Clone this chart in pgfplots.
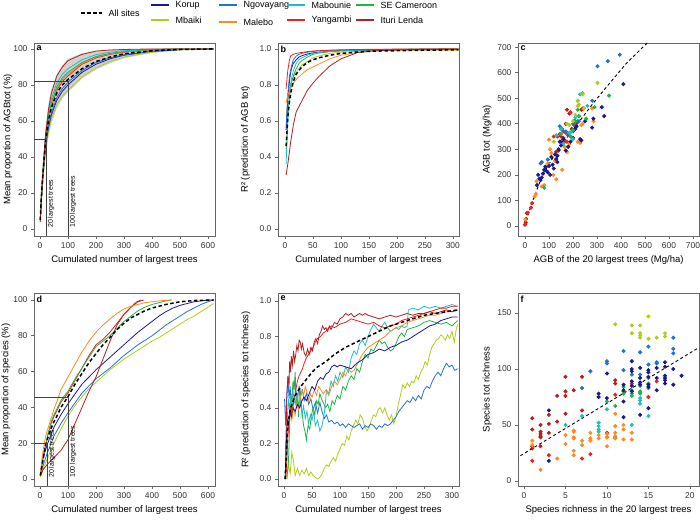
\documentclass[border=0pt]{standalone}
\usepackage{fontspec}
\setmainfont{Liberation Sans}
\usepackage{pgfplots}
\pgfplotsset{compat=1.18}
\usepackage{pgfplotstable}

\definecolor{korup}{HTML}{1A1A8C}
\definecolor{ngov}{HTML}{2271D6}
\definecolor{mabo}{HTML}{1FBFBF}
\definecolor{secam}{HTML}{1DB54A}
\definecolor{mbaiki}{HTML}{B4CC14}
\definecolor{malebo}{HTML}{FF8A1F}
\definecolor{yang}{HTML}{EE2020}
\definecolor{ituri}{HTML}{B51F1F}

\pgfplotsset{
  panel/.style={
    scale only axis, width=181pt, height=193pt, anchor=south west,
    axis line style={black!60, line width=0.6pt},
    tick align=outside, xtick pos=bottom, ytick pos=left,
    major tick length=3pt, tick style={black!60, line width=0.6pt},
    tick label style={font=\fontsize{8.5}{9}\selectfont, text=black!80},
    label style={font=\fontsize{9.5}{10}\selectfont},
    /pgf/number format/assume math mode=true,
    every axis plot/.append style={line width=0.8pt},
  },
  ylab/.style={ylabel style={at={(rel axis cs:#1,0.5)}, anchor=center}},
  alldash/.style={black, line width=1.5pt, dash pattern=on 3.5pt off 2.5pt},
  refl/.style={black!75, line width=0.6pt},
  sc/.style={only marks, mark=*, mark size=1.6pt},
}
\tikzset{rotlab/.style={rotate=90, anchor=north west, inner sep=1pt, font=\fontsize{7}{8}\selectfont}}
\newcommand{\plab}[1]{\node[anchor=north west, inner sep=2.5pt, font=\bfseries\fontsize{9}{10}\selectfont] at (rel axis cs:0,1) {#1};}

% panel a: mean proportion of AGB
\pgfplotstableread{
x   allsites ituri mabo secam malebo yang ngov korup mbaiki
1   5    4     5    5     5      5    5    5     4
5   18   17    19   18    18     18   17   16    15
10  30   31    32   31    30     30   29   28    26
20  49   52    53   51    50     50   47   46    44
30  60   66    65   62    61     61   57   56    54
40  67   75    72   70    69     68   64   63    61
60  75.5 85    81   79    78     77   73   71.5  69
80  80   90    86   84    83     82   78   76.5  74
100 83   93.5  89   87    86     85   81.5 80    77
150 89   97    94   92.5  92     91.5 88   87    84.5
200 93   98.8  96.8 95.8  95.5   95   92.5 91.5  89.5
250 95.5 99.4  98.2 97.5  97.3   97   95   94.5  93
300 97.3 99.7  99   98.6  98.4   98.2 96.8 96.5  95.5
400 99   100   99.8 99.6  99.5   99.5 98.8 98.7  98.2
500 99.7 100   100  100   100    100  99.7 99.6  99.5
620 100  100   100  100   100    100  100  100   100
}\tabA

% panel b: R2 of AGB tot
\pgfplotstableread{
x   allsites ituri malebo yang  ngov  korup mabo  secam mbaiki
2   0.46  0.30  0.70   0.78  0.55  0.55  0.36  0.42  0.58
5   0.62  0.36  0.74   0.88  0.75  0.72  0.60  0.62  0.72
8   0.71  0.43  0.77   0.94  0.85  0.82  0.74  0.73  0.77
10  0.75  0.48  0.78   0.96  0.88  0.87  0.80  0.78  0.80
12  0.78  0.52  0.795  0.965 0.91  0.895 0.84  0.82  0.82
15  0.82  0.58  0.81   0.97  0.94  0.92  0.88  0.85  0.845
20  0.86  0.65  0.83   0.975 0.96  0.94  0.92  0.89  0.87
25  0.88  0.68  0.845  0.978 0.97  0.955 0.94  0.92  0.89
30  0.90  0.71  0.86   0.98  0.975 0.962 0.95  0.935 0.91
40  0.925 0.77  0.885  0.985 0.982 0.972 0.965 0.955 0.93
50  0.94  0.81  0.90   0.988 0.986 0.978 0.975 0.97  0.95
60  0.95  0.845 0.915  0.99  0.99  0.982 0.98  0.977 0.96
80  0.965 0.905 0.945  0.993 0.992 0.986 0.986 0.985 0.975
100 0.975 0.945 0.965  0.995 0.994 0.99  0.99  0.99  0.982
130 0.983 0.98  0.98   0.997 0.996 0.992 0.993 0.993 0.987
160 0.988 0.99  0.99   0.998 0.997 0.994 0.995 0.995 0.99
200 0.99  0.995 0.995  0.999 0.998 0.995 0.997 0.997 0.992
250 0.993 0.998 0.998  1.0   0.999 0.996 0.998 0.998 0.993
310 0.995 1.0   1.0    1.0   1.0   0.997 1.0   1.0   0.993
}\tabB

\begin{document}
\begin{tikzpicture}
\path[use as bounding box] (0pt,0pt) rectangle (700pt,529pt);

% legend
\draw[black, line width=1.6pt, dash pattern=on 3.5pt off 2.5pt] (81pt,516pt) -- (102pt,516pt);
\node[anchor=west, font=\fontsize{9}{10}\selectfont] at (105pt,516pt) {All sites};
\foreach \xx/\yy/\cc/\nn in {151/524/korup/Korup, 219/524/ngov/Ngovayang, 287/524/mabo/Mabounie, 356/524/secam/SE Cameroon,
  151/509/mbaiki/Mbaiki, 219/507/malebo/Malebo, 287/509/yang/Yangambi, 356/509/ituri/Ituri Lenda}{
  \draw[\cc, line width=2pt] (\xx pt,\yy pt) -- (\xx pt+18pt,\yy pt);
  \node[anchor=west, font=\fontsize{9}{10}\selectfont] at (\xx pt+21pt,\yy pt) {\nn};
}

% ---------- a ----------
\begin{axis}[panel, at={(34pt,293pt)}, ylab=-0.144,
  xmin=-21.4, xmax=625, ymin=-3.9, ymax=103.3,
  xtick={0,100,...,600}, ytick={0,20,...,100},
  xlabel={Cumulated number of largest trees},
  ylabel={Mean proportion of AGBtot (\%)}]
\addplot[fill=black!18, draw=none] coordinates {(1,6) (5,20) (10,34) (20,56) (30,69) (40,77) (60,86) (80,91) (100,94.5) (150,97.5) (200,99) (250,99.6) (300,99.8) (400,100) (500,100) (620,100)
  (620,100) (500,99.3) (400,97.8) (300,94.8) (250,92) (200,88.5) (150,83.5) (100,76) (80,72.5) (60,67) (40,58) (30,51) (20,41) (10,24) (5,13) (1,3)};
\addplot[mbaiki] table[x=x,y=mbaiki]{\tabA};
\addplot[korup] table[x=x,y=korup]{\tabA};
\addplot[ngov] table[x=x,y=ngov]{\tabA};
\addplot[yang] table[x=x,y=yang]{\tabA};
\addplot[malebo] table[x=x,y=malebo]{\tabA};
\addplot[secam] table[x=x,y=secam]{\tabA};
\addplot[mabo] table[x=x,y=mabo]{\tabA};
\addplot[ituri] table[x=x,y=ituri]{\tabA};
\addplot[alldash] table[x=x,y=allsites]{\tabA};
\addplot[refl] coordinates {(-30,82) (100,82) (100,-10)};
\addplot[refl] coordinates {(-30,50) (22,50) (22,-10)};
\node[rotlab] at (axis cs:24,0) {20 largest trees};
\node[rotlab] at (axis cs:102,0) {100 largest trees};
\plab{a}
\end{axis}

% ---------- b ----------
\begin{axis}[panel, at={(278pt,293pt)}, ylab=-0.18,
  xmin=-12.5, xmax=311, ymin=-0.039, ymax=1.033,
  xtick={0,50,...,300}, ytick={0,0.2,...,1.0},
  yticklabel style={/pgf/number format/.cd, fixed, fixed zerofill, precision=1},
  xlabel={Cumulated number of largest trees},
  ylabel={R² (prediction of AGB tot)}]
\addplot[mbaiki] table[x=x,y=mbaiki]{\tabB};
\addplot[korup] table[x=x,y=korup]{\tabB};
\addplot[secam] table[x=x,y=secam]{\tabB};
\addplot[mabo] table[x=x,y=mabo]{\tabB};
\addplot[ngov] table[x=x,y=ngov]{\tabB};
\addplot[malebo] table[x=x,y=malebo]{\tabB};
\addplot[yang] table[x=x,y=yang]{\tabB};
\addplot[ituri] table[x=x,y=ituri]{\tabB};
\addplot[alldash] table[x=x,y=allsites]{\tabB};
\plab{b}
\end{axis}

% ---------- c ----------
\begin{axis}[panel, at={(518pt,293pt)}, ylab=-0.17,
  xmin=-29, xmax=725, ymin=-39, ymax=716,
  xtick={0,100,...,700}, ytick={0,100,...,700},
  xlabel={AGB of the 20 largest trees (Mg/ha)},
  ylabel={AGB tot (Mg/ha)}]
\addplot[sc, ituri] coordinates {(0,5) (3,15) (5,28) (8,50) (130,290) (150,350) (160,345) (170,400) (175,455) (185,440) (195,380) (215,405) (235,455) (245,460) (140,295) (165,330) (200,370)};
\addplot[sc, yang] coordinates {(2,8) (12,52) (25,72) (30,90) (120,350) (135,350) (145,360) (160,370) (170,365) (180,355) (190,445) (205,395) (220,410) (240,460) (175,330) (155,335)};
\addplot[sc, malebo] coordinates {(2,25) (40,115) (45,125) (48,175) (70,155) (80,160) (100,338) (104,300) (110,285) (118,200) (130,183) (155,220) (165,310) (175,290) (180,312) (185,322) (220,330) (230,325) (235,395) (240,400) (285,410) (280,460) (125,255) (95,245)};
\addplot[sc, korup] coordinates {(50,160) (55,200) (60,185) (65,180) (70,190) (80,220) (85,232) (90,215) (95,210) (100,235) (105,200) (110,270) (115,240) (120,225) (125,280) (130,262) (135,250) (140,300) (145,330) (150,315) (155,325) (160,340) (170,295) (180,310) (190,330) (200,345) (205,410) (210,380) (215,390) (230,340) (235,335) (250,410) (280,385) (285,420) (320,465) (330,430) (410,555) (75,205) (135,275)};
\addplot[sc, ngov] coordinates {(65,245) (70,250) (95,260) (145,390) (155,380) (170,370) (200,400) (280,490) (302,625) (345,645) (395,670) (225,410) (180,360)};
\addplot[sc, mabo] coordinates {(130,355) (150,380) (185,365) (195,370) (200,340) (210,425) (230,515) (240,520) (260,470) (160,322) (220,490)};
\addplot[sc, secam] coordinates {(80,150) (150,360) (190,350) (200,375) (210,410) (225,430) (255,420) (290,465) (350,510) (220,455)};
\addplot[sc, mbaiki] coordinates {(120,330) (175,400) (185,395) (200,410) (210,435) (220,470) (220,490) (225,475) (240,515) (302,560) (245,460)};
\addplot[black, line width=0.9pt, dash pattern=on 3pt off 2.5pt] coordinates {(0,0) (10,35) (28,89) (76,206) (146,311) (215,395) (284,480) (353,559) (423,637) (530,735)};
\plab{c}
\end{axis}

% ---------- d ----------
\begin{axis}[panel, at={(34pt,43pt)}, ylab=-0.155,
  xmin=-21.4, xmax=625, ymin=-3.9, ymax=103.9,
  xtick={0,100,...,600}, ytick={0,20,...,100},
  xlabel={Cumulated number of largest trees},
  ylabel={Mean proportion of species (\%)}]
\addplot[mbaiki] coordinates {(1,1) (10,5) (25,11) (50,20) (75,28) (100,35) (125,41) (150,46) (175,50.5) (200,54) (225,57.5) (250,61) (275,64) (300,67) (325,69.5) (350,72) (375,74.5) (400,77) (425,79) (450,81.5) (475,84) (500,86.5) (525,89) (550,91) (575,93.5) (600,96) (620,98)};
\addplot[ngov] coordinates {(1,2) (10,7) (25,14) (50,24) (75,31) (100,37) (125,42.5) (150,48) (175,52) (200,56) (225,59) (250,62) (275,65.5) (300,69) (325,72) (350,75) (375,77.5) (400,80) (425,83) (450,86) (475,88.5) (500,91) (525,93.5) (550,95.5) (575,97.5) (600,99) (620,100)};
\addplot[korup] coordinates {(1,2) (10,11) (25,19) (50,29) (75,36) (100,42) (125,47.5) (150,53) (175,57) (200,61) (225,64.5) (250,68) (275,71.5) (300,75) (325,78.5) (350,82) (375,85) (400,88) (425,91) (450,93.5) (475,95.5) (500,97) (550,99) (600,100) (620,100)};
\addplot[ituri] coordinates {(3,2) (10,5) (25,8) (50,12) (75,16) (100,22) (125,31) (150,40) (175,49) (200,57) (225,67) (250,77) (275,86) (300,92) (325,96) (350,99) (370,100)};
\addplot[yang] coordinates {(1,2) (10,12) (20,19) (30,26) (40,31) (50,35) (60,38) (75,43) (100,48) (125,55) (150,62) (175,69) (200,75) (225,78) (250,82) (275,87) (300,92) (325,96) (345,99) (360,100)};
\addplot[secam] coordinates {(1,2) (10,11) (20,19) (30,26) (40,32) (50,36) (60,39) (75,44) (100,49) (125,56) (150,62) (175,68) (200,74) (225,77) (250,80) (275,84) (300,88) (325,91) (350,94) (375,96) (400,97.5) (425,98.5) (450,99.5) (470,100)};
\addplot[malebo] coordinates {(1,3) (10,15) (20,24) (30,29) (40,34) (50,39) (60,43) (75,50) (100,57) (125,64) (150,71) (175,77) (200,82) (225,86) (250,89.5) (275,92.5) (300,95) (325,96.5) (350,97.5) (375,98.5) (400,99) (425,99.5) (450,99.8) (470,100)};
\addplot[alldash] coordinates {(1,2) (10,10) (20,19) (30,24) (40,28.5) (50,32) (60,35) (75,40) (100,46) (125,53) (150,59) (175,65) (200,70) (225,75) (250,79) (275,83.5) (300,87) (325,90) (350,92) (375,94) (400,95.5) (450,97.5) (500,99) (550,99.7) (620,100)};
\addplot[refl] coordinates {(-30,45.5) (100,45.5) (100,-10)};
\addplot[refl] coordinates {(-30,20) (25,20) (25,-10)};
\node[rotlab] at (axis cs:27,0) {20 largest trees};
\node[rotlab] at (axis cs:102,0) {100 largest trees};
\plab{d}
\end{axis}

% ---------- e ----------
\begin{axis}[panel, at={(278pt,43pt)}, ylab=-0.177,
  xmin=-10.7, xmax=312.5, ymin=-0.039, ymax=1.045,
  xtick={0,50,...,300}, ytick={0,0.2,...,1.0},
  yticklabel style={/pgf/number format/.cd, fixed, fixed zerofill, precision=1},
  xlabel={Cumulated number of largest trees},
  ylabel={R² (prediction of species tot richness)}]
\addplot[mbaiki] coordinates {(5,0) (8,0.08) (11,0.03) (14,0.15) (17,0.1) (20,0.02) (24,0.06) (28,0.02) (32,0.05) (36,0.03) (40,0.06) (44,0.02) (48,0.04) (52,0.02) (56,0.01) (60,0.0) (64,0.01) (68,0.03) (72,0.06) (76,0.08) (80,0.07) (84,0.1) (88,0.12) (92,0.1) (96,0.14) (100,0.17) (104,0.2) (108,0.19) (112,0.24) (116,0.22) (120,0.27) (124,0.3) (128,0.33) (132,0.31) (136,0.36) (140,0.34) (144,0.3) (148,0.27) (152,0.29) (156,0.33) (160,0.36) (164,0.35) (168,0.39) (172,0.4) (176,0.37) (180,0.4) (184,0.36) (188,0.33) (192,0.36) (196,0.31) (200,0.35) (204,0.42) (208,0.47) (212,0.53) (216,0.51) (220,0.54) (224,0.52) (228,0.55) (232,0.54) (236,0.58) (240,0.56) (244,0.6) (248,0.62) (252,0.66) (256,0.64) (260,0.7) (264,0.74) (268,0.76) (272,0.78) (276,0.79) (280,0.81) (284,0.8) (288,0.78) (292,0.81) (296,0.79) (300,0.83) (304,0.77) (308,0.85) (311,0.87)};
\addplot[ngov] coordinates {(1,0.45) (3,0.3) (5,0.48) (7,0.57) (9,0.45) (11,0.52) (13,0.41) (15,0.5) (18,0.55) (21,0.5) (24,0.45) (27,0.52) (30,0.47) (33,0.5) (36,0.44) (40,0.48) (44,0.42) (48,0.45) (52,0.39) (56,0.43) (60,0.37) (64,0.43) (68,0.38) (72,0.34) (76,0.36) (80,0.32) (85,0.33) (90,0.31) (95,0.32) (100,0.3) (105,0.31) (110,0.29) (115,0.31) (120,0.3) (125,0.29) (130,0.3) (135,0.31) (140,0.28) (145,0.3) (150,0.29) (155,0.31) (160,0.3) (165,0.28) (170,0.3) (175,0.29) (180,0.31) (185,0.3) (190,0.31) (195,0.33) (200,0.35) (205,0.38) (210,0.4) (215,0.42) (220,0.44) (225,0.43) (230,0.46) (235,0.44) (240,0.47) (245,0.45) (250,0.5) (255,0.52) (260,0.51) (265,0.55) (270,0.58) (275,0.6) (280,0.58) (285,0.62) (290,0.65) (295,0.63) (300,0.64) (305,0.61) (310,0.62)};
\addplot[secam] coordinates {(5,0) (8,0.1) (10,0.3) (12,0.45) (14,0.35) (16,0.55) (18,0.5) (20,0.6) (22,0.4) (24,0.48) (26,0.35) (28,0.52) (30,0.45) (32,0.38) (35,0.3) (38,0.26) (40,0.22) (43,0.3) (46,0.28) (49,0.36) (52,0.4) (55,0.36) (58,0.44) (61,0.42) (64,0.48) (67,0.45) (70,0.43) (74,0.4) (78,0.42) (82,0.38) (86,0.44) (90,0.42) (95,0.47) (100,0.45) (105,0.52) (110,0.5) (115,0.55) (120,0.58) (125,0.56) (130,0.62) (135,0.6) (140,0.66) (145,0.7) (150,0.68) (155,0.73) (160,0.72) (165,0.75) (170,0.78) (175,0.76) (180,0.77) (185,0.74) (190,0.72) (195,0.73) (200,0.76) (205,0.8) (210,0.82) (215,0.8) (220,0.84) (230,0.85) (240,0.86) (250,0.88) (260,0.89) (270,0.88) (280,0.87) (290,0.88) (300,0.86) (310,0.89)};
\addplot[mabo] coordinates {(2,0) (4,0.15) (6,0.35) (8,0.45) (10,0.38) (12,0.47) (14,0.41) (16,0.5) (18,0.44) (20,0.42) (23,0.48) (26,0.39) (29,0.45) (32,0.36) (35,0.41) (38,0.34) (41,0.38) (44,0.31) (47,0.36) (50,0.33) (53,0.38) (56,0.3) (60,0.33) (64,0.27) (68,0.3) (72,0.37) (76,0.5) (80,0.48) (84,0.55) (88,0.52) (92,0.58) (96,0.55) (100,0.6) (105,0.57) (110,0.63) (115,0.6) (120,0.68) (125,0.72) (130,0.7) (135,0.76) (140,0.78) (145,0.75) (150,0.8) (155,0.84) (160,0.87) (165,0.85) (170,0.83) (175,0.86) (180,0.88) (185,0.85) (190,0.83) (195,0.84) (200,0.85) (205,0.84) (210,0.86) (215,0.85) (220,0.86) (222,0.95) (230,0.96) (240,0.95) (250,0.97) (260,0.96) (270,0.97) (280,0.96) (290,0.97) (300,0.98) (310,0.97)};
\addplot[malebo] coordinates {(3,0) (5,0.12) (8,0.3) (11,0.38) (14,0.33) (17,0.4) (20,0.36) (23,0.43) (26,0.39) (29,0.45) (32,0.5) (35,0.47) (38,0.52) (41,0.49) (44,0.44) (47,0.48) (50,0.46) (54,0.5) (58,0.47) (62,0.52) (66,0.5) (70,0.48) (75,0.5) (80,0.47) (85,0.52) (90,0.55) (95,0.53) (100,0.56) (105,0.6) (110,0.58) (115,0.62) (120,0.6) (125,0.61) (130,0.64) (135,0.67) (140,0.7) (145,0.72) (150,0.74) (160,0.76) (170,0.78) (180,0.8) (190,0.83) (200,0.85) (210,0.86) (220,0.88) (230,0.89) (240,0.9) (250,0.91) (260,0.92) (270,0.92) (280,0.93) (290,0.94) (300,0.94) (310,0.95)};
\addplot[korup] coordinates {(2,0) (4,0.2) (6,0.33) (8,0.3) (10,0.38) (13,0.35) (16,0.4) (20,0.38) (24,0.42) (28,0.4) (32,0.44) (36,0.46) (40,0.44) (45,0.48) (50,0.52) (55,0.5) (60,0.55) (65,0.57) (70,0.56) (75,0.59) (80,0.6) (85,0.63) (90,0.64) (95,0.63) (100,0.64) (110,0.63) (120,0.62) (130,0.65) (140,0.67) (150,0.7) (160,0.71) (170,0.73) (180,0.72) (190,0.74) (200,0.75) (210,0.77) (220,0.78) (230,0.8) (240,0.82) (250,0.84) (260,0.86) (270,0.87) (280,0.89) (290,0.9) (300,0.91) (310,0.91)};
\addplot[yang] coordinates {(3,0) (5,0.1) (7,0.25) (9,0.32) (12,0.4) (15,0.38) (18,0.45) (21,0.5) (24,0.55) (27,0.58) (30,0.6) (33,0.62) (36,0.65) (40,0.68) (44,0.7) (48,0.72) (52,0.74) (56,0.77) (60,0.79) (65,0.8) (70,0.82) (75,0.83) (80,0.85) (85,0.86) (90,0.85) (95,0.86) (100,0.87) (110,0.88) (120,0.9) (130,0.89) (140,0.88) (150,0.87) (160,0.88) (170,0.86) (180,0.85) (190,0.86) (200,0.87) (210,0.89) (220,0.9) (230,0.91) (240,0.92) (250,0.93) (260,0.94) (270,0.95) (280,0.96) (290,0.96) (300,0.97) (310,0.97)};
\addplot[ituri] coordinates {(3,0.15) (5,0.45) (7,0.58) (9,0.52) (10,0.66) (12,0.6) (13,0.69) (15,0.64) (17,0.72) (19,0.66) (21,0.7) (23,0.75) (25,0.72) (27,0.78) (29,0.77) (31,0.73) (33,0.76) (36,0.71) (39,0.69) (42,0.73) (45,0.7) (48,0.74) (51,0.72) (54,0.77) (57,0.79) (60,0.76) (63,0.81) (66,0.83) (69,0.86) (72,0.84) (75,0.85) (78,0.83) (81,0.86) (84,0.84) (87,0.86) (90,0.88) (95,0.87) (100,0.9) (105,0.91) (110,0.93) (115,0.92) (120,0.93) (125,0.91) (130,0.92) (135,0.93) (140,0.92) (145,0.93) (150,0.92) (160,0.91) (170,0.9) (180,0.91) (190,0.92) (200,0.91) (210,0.92) (220,0.93) (230,0.92) (240,0.93) (250,0.93) (260,0.94) (270,0.93) (280,0.94) (290,0.95) (300,0.94) (310,0.95)};
\addplot[alldash] coordinates {(2,0) (4,0.12) (6,0.27) (8,0.33) (12,0.4) (20,0.47) (30,0.52) (40,0.56) (50,0.6) (60,0.63) (75,0.66) (90,0.7) (110,0.74) (130,0.77) (150,0.8) (170,0.83) (190,0.86) (210,0.88) (230,0.9) (250,0.92) (270,0.93) (290,0.94) (310,0.95)};
\plab{e}
\end{axis}

% ---------- f ----------
\begin{axis}[panel, at={(518pt,43pt)}, ylab=-0.17,
  xmin=-0.72, xmax=21.1, ymin=-4.5, ymax=167.9,
  xtick={0,5,...,20}, ytick={0,50,100,150},
  xlabel={Species richness in the 20 largest trees},
  ylabel={Species tot richness}]
\addplot[sc, ituri] coordinates {(1,56) (1,46) (1,31) (1,29) (2,50) (2,44) (2,42) (2,40) (2,39) (2,31) (3,59) (3,51) (3,43) (4,76) (4,53) (5,93) (5,80) (5,76) (5,60) (6,81) (7,93) (7,63) (11,90) (11,87)};
\addplot[sc, yang] coordinates {(1,18) (3,23) (7,20) (8,24) (10,43) (10,39) (11,39) (11,77) (12,80) (13,87) (15,75) (16,89)};
\addplot[sc, malebo] coordinates {(1,36) (1,32) (2,10) (4,20) (5,41) (5,33) (6,45) (6,44) (6,39) (6,38) (6,27) (6,23) (7,36) (7,32) (8,43) (8,38) (8,36) (9,41) (9,38) (10,42) (10,39) (10,31) (11,60) (11,49) (11,43) (11,40) (11,38) (12,50) (12,46) (12,37) (13,43) (13,37)};
\addplot[sc, mabo] coordinates {(5,50) (7,58) (9,52) (9,49) (9,46) (9,44) (10,64) (13,50) (14,72) (14,69) (14,74) (15,58)};
\addplot[sc, secam] coordinates {(10,71) (11,67) (12,84) (12,78) (13,81) (13,78) (13,76) (14,85) (14,80) (14,79) (14,78) (15,92) (15,87) (15,83)};
\addplot[sc, ngov] coordinates {(7,83) (8,98) (10,107) (10,105) (12,116) (12,99) (14,115) (15,120) (15,104) (16,106) (16,105) (18,128) (18,118) (18,114) (13,95) (14,95)};
\addplot[sc, korup] coordinates {(3,63) (3,18) (9,78) (9,75) (10,96) (10,74) (12,71) (12,57) (12,86) (12,81) (13,107) (13,100) (13,98) (13,89) (13,85) (13,80) (14,101) (14,92) (14,88) (14,86) (14,59) (15,99) (15,97) (15,93) (15,86) (15,84) (15,65) (16,101) (16,92) (16,81) (17,106) (17,102) (17,94) (17,92) (17,90) (17,87) (18,100) (18,86) (19,94)};
\addplot[sc, mbaiki] coordinates {(11,140) (13,139) (13,132) (14,139) (14,132) (14,130) (14,128) (15,147) (15,127) (16,128) (17,132) (17,129)};
\addplot[black, line width=0.9pt, dash pattern=on 3pt off 2.5pt] coordinates {(-1,20) (21.5,121)};
\plab{f}
\end{axis}
\end{tikzpicture}
\end{document}
